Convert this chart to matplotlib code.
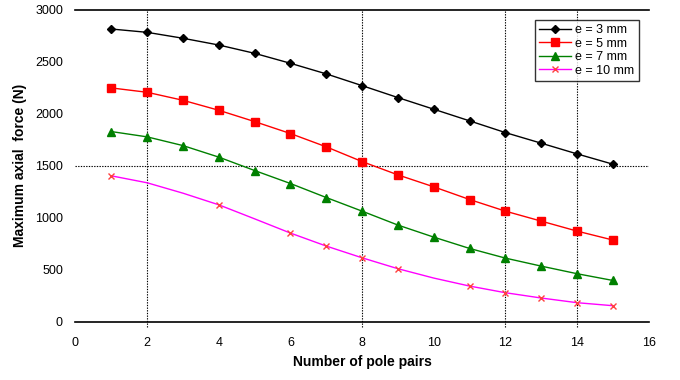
import matplotlib
matplotlib.use("Agg")
import matplotlib.pyplot as plt

# pole pairs
pole_pairs = list(range(1, 16))

# maximum axial force (N) for each airgap e
force_e3 = [2817, 2785, 2728, 2663, 2583, 2487, 2385, 2272, 2157, 2045, 1933, 1820, 1718, 1615, 1516]
force_e5 = [2250, 2208, 2131, 2035, 1926, 1811, 1683, 1541, 1413, 1298, 1176, 1064, 968, 872, 786]
force_e7 = [1830, 1779, 1695, 1584, 1455, 1330, 1195, 1064, 930, 814, 705, 612, 535, 462, 397]
force_e10 = [1404, 1337, 1237, 1125, 990, 853, 728, 615, 510, 420, 343, 279, 228, 183, 154]
# indices of e = 10 mm points that carry a marker
marked_e10 = [0, 3, 5, 6, 7, 8, 10, 11, 12, 13, 14]

grid_x = [2, 8, 12, 14]
grid_y = [1500]

plt.rcParams['font.family'] = ['Liberation Sans', 'DejaVu Sans']

fig = plt.figure(figsize=(6.8, 3.8), dpi=100)
ax = fig.add_axes([0.111, 0.1534, 0.843, 0.8203])

for gx in grid_x:
    ax.axvline(gx, ymin=-0.018, ymax=1, color='black', lw=0.8,
               linestyle=(0, (1.2, 1.2)), clip_on=False, zorder=1)
for gy in grid_y:
    ax.axhline(gy, color='black', lw=0.8, linestyle=(0, (1.2, 1.2)), zorder=1)

ax.plot(pole_pairs, force_e3, '-', color='black', lw=1, marker='D',
        markersize=4.5, label='e = 3 mm', zorder=3)
ax.plot(pole_pairs, force_e5, '-', color='#ff0000', lw=1, marker='s',
        markersize=5.5, label='e = 5 mm', zorder=3)
ax.plot(pole_pairs, force_e7, '-', color='#008000', lw=1, marker='^',
        markersize=6, label='e = 7 mm', zorder=3)
ax.plot(pole_pairs, force_e10, '-', color='#ff00ff', lw=1, marker='x',
        markersize=5, markeredgecolor='#ff4040', markeredgewidth=1,
        markevery=marked_e10, label='e = 10 mm', zorder=3)

ax.set_xlim(0, 16)
ax.set_ylim(0, 3000)
ax.set_xticks(range(0, 17, 2))
ax.set_yticks(range(0, 3001, 500))

ax.spines['left'].set_visible(False)
ax.spines['right'].set_visible(False)
ax.spines['top'].set_linewidth(1.2)
ax.spines['bottom'].set_linewidth(1.2)
ax.tick_params(axis='x', length=0, pad=11, labelsize=9)
ax.tick_params(axis='y', length=0, pad=9, labelsize=9)

ax.set_xlabel('Number of pole pairs', fontsize=10, fontweight='bold', labelpad=4)
ax.set_ylabel('Maximum axial  force (N)', fontsize=10, fontweight='bold', labelpad=6)

leg = ax.legend(loc='upper right', fontsize=9, frameon=True, fancybox=False,
                borderaxespad=0.8, handlelength=2.6, handletextpad=0.3,
                labelspacing=0.12, borderpad=0.35)
leg.get_frame().set_edgecolor('black')
leg.get_frame().set_linewidth(1)

fig.savefig('out.png', dpi=100)
